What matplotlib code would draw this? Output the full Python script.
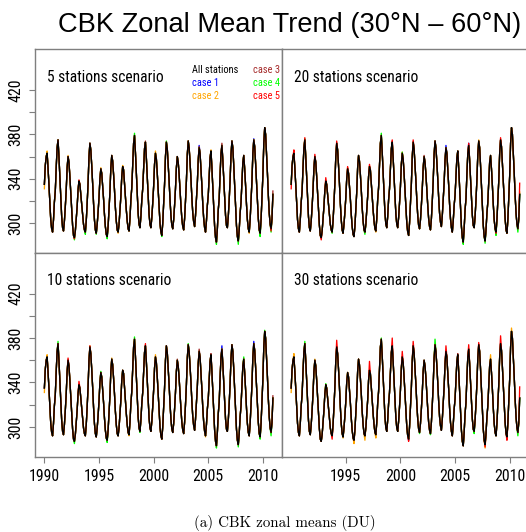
import numpy as np
import matplotlib
matplotlib.use("Agg")
import matplotlib.pyplot as plt
from matplotlib import font_manager

# ---------------- data ----------------
years = list(range(1990, 2011))
# monthly "All stations" zonal mean (DU), Jan..Dec for each year
all_stations_monthly = [
    [335, 352, 360, 363, 350, 335, 318, 303, 295, 292, 303, 319],  # 1990
    [329, 350, 368, 375, 360, 342, 322, 306, 296, 293, 302, 315],  # 1991
    [330, 350, 360, 355, 342, 327, 311, 298, 289, 287, 293, 304],  # 1992
    [315, 330, 338, 335, 326, 317, 307, 299, 294, 292, 302, 318],  # 1993
    [336, 360, 372, 366, 352, 336, 318, 303, 294, 291, 299, 310],  # 1994
    [323, 340, 349, 345, 334, 322, 308, 297, 290, 288, 297, 312],  # 1995
    [328, 350, 361, 356, 344, 330, 314, 302, 294, 292, 299, 311],  # 1996
    [324, 342, 351, 348, 336, 325, 312, 302, 295, 293, 304, 321],  # 1997
    [332, 353, 372, 379, 364, 346, 326, 309, 299, 296, 306, 321],  # 1998
    [331, 350, 367, 373, 359, 342, 324, 308, 299, 296, 305, 318],  # 1999
    [333, 353, 363, 358, 345, 330, 314, 300, 292, 289, 300, 317],  # 2000
    [335, 360, 373, 367, 353, 338, 321, 307, 298, 295, 303, 316],  # 2001
    [331, 350, 360, 355, 344, 330, 316, 304, 297, 294, 304, 320],  # 2002
    [338, 362, 374, 368, 355, 340, 323, 309, 301, 297, 307, 321],  # 2003
    [336, 357, 368, 363, 349, 334, 317, 304, 296, 292, 302, 316],  # 2004
    [325, 343, 359, 365, 350, 332, 313, 297, 287, 283, 295, 312],  # 2005
    [322, 344, 363, 370, 357, 340, 322, 307, 298, 296, 306, 321],  # 2006
    [339, 362, 374, 368, 352, 334, 314, 298, 288, 284, 294, 309],  # 2007
    [319, 338, 355, 361, 349, 334, 317, 303, 295, 292, 303, 320],  # 2008
    [338, 363, 375, 369, 354, 337, 319, 304, 294, 291, 303, 322],  # 2009
    [343, 372, 386, 380, 363, 345, 325, 309, 299, 295, 304, 326],  # 2010
]

case_names = ["case 1", "case 2", "case 3", "case 4", "case 5"]
case_colors = ["#0000FF", "#FFA500", "#A52A2A", "#00FF00", "#FF0000"]

scenario_titles = ["5 stations scenario", "20 stations scenario",
                   "10 stations scenario", "30 stations scenario"]

# deviations of each case from "All stations" (year, 'pk'|'tr'|month, DU)
dev_5 = {
    1: [(2004, 'pk', 2), (2009, 'pk', 1)],
    2: [(1990, 1, -4), (1990, 'pk', 2), (1992, 'pk', 1), (1995, 'pk', 1), (1997, 'pk', 1),
        (2000, 'pk', 2), (2005, 'pk', 1), (1996, 'tr', -1), (2008, 'tr', -1)],
    3: [(2004, 'pk', 1), (2006, 'pk', 2), (2010, 12, 3), (1999, 'pk', 1)],
    4: [(1992, 'tr', -2), (1993, 'tr', -2), (1995, 'tr', -2), (1998, 'pk', 2), (2001, 'pk', 1),
        (2000, 'tr', -1), (2005, 'tr', -2), (2007, 'tr', -3), (2009, 'tr', -3), (2010, 'tr', -3),
        (1994, 'tr', -1)],
    5: [(1992, 'tr', -1), (2010, 'tr', -2), (1993, 'pk', 1)],
}
dev_20 = {
    1: [(1993, 'pk', -2), (1997, 'pk', -2), (2004, 'pk', 2), (2006, 'pk', 2)],
    2: [(1995, 'pk', 1), (2000, 'pk', 1), (2007, 'pk', 1), (1997, 'tr', -1), (2010, 12, 2)],
    3: [(1999, 'pk', 1), (2002, 'pk', 1)],
    4: [(1991, 'pk', 1), (1998, 'pk', 2), (2000, 'pk', 1), (1996, 'tr', -2), (2005, 'tr', -2),
        (2007, 'tr', -2), (2008, 'tr', -3), (2010, 'tr', -3), (1993, 'tr', -1)],
    5: [(1990, 1, -4), (1990, 'pk', 3), (1991, 'pk', 2), (1992, 'pk', 2), (1993, 'pk', 3),
        (1994, 'pk', 2), (1995, 'pk', 2), (1997, 'pk', 2), (1999, 'pk', 2), (2001, 'pk', 2),
        (2006, 'pk', 2), (2009, 'pk', 2), (1992, 'tr', -2), (2008, 'tr', -1), (2010, 12, 10)],
}
dev_10 = {
    1: [(2006, 'pk', 3), (2009, 'pk', 2)],
    2: [(1990, 1, -4), (1990, 'pk', 2), (1994, 'pk', 1), (1996, 'pk', 1), (2000, 'pk', 2),
        (1997, 'tr', -1), (2004, 'tr', -1), (2010, 'tr', 1)],
    3: [(2002, 'pk', 1), (2004, 'pk', 2), (2005, 'pk', 1), (2010, 12, 2)],
    4: [(1991, 'pk', 2), (1995, 'pk', 1), (1998, 'pk', 2), (2003, 'pk', 1), (2008, 'pk', 2),
        (2010, 'pk', 1), (1992, 'tr', -2), (1995, 'tr', -2), (1998, 'tr', -1), (2005, 'tr', -2),
        (2007, 'tr', -2), (2009, 'tr', -2), (2010, 'tr', -3)],
    5: [(1992, 'pk', 2), (1993, 'pk', 3), (1999, 'pk', 2), (1994, 'pk', 1)],
}
dev_30 = {
    1: [(1993, 'pk', -3), (1995, 'pk', -2), (1997, 'pk', -4), (2003, 'pk', -6), (1995, 'tr', -1),
        (2000, 'tr', -1)],
    2: [(1990, 1, -4), (1990, 'pk', 3), (1992, 'pk', 1), (2008, 'pk', 4), (2010, 'pk', 3),
        (1995, 'tr', -3), (1996, 'tr', -4), (1997, 'tr', -3), (2007, 'tr', -3), (1994, 'tr', -1)],
    3: [(2005, 'pk', 1)],
    4: [(1991, 'pk', 2), (1993, 'pk', 1), (1998, 'pk', 1), (2003, 'pk', 5), (2006, 'tr', -2),
        (2001, 'tr', -1), (2010, 'tr', -3), (2002, 'tr', -1)],
    5: [(1994, 'pk', 6), (1997, 'pk', 8), (1999, 'pk', 7), (2000, 'pk', 5), (2001, 'pk', 4),
        (2004, 'pk', 5), (2006, 'pk', 4), (2007, 'pk', 2), (2009, 'pk', 7), (1993, 'tr', -3),
        (2000, 'tr', -2), (2007, 'tr', -2), (2009, 'tr', -3), (2010, 12, 10)],
}
panel_devs = [dev_5, dev_20, dev_10, dev_30]

y_ticks = [300, 320, 340, 360, 380, 400, 420]
y_labels = ["300", "", "340", "", "380", "", "420"]
x_ticks_left = [1990, 1995, 2000, 2005, 2010]
x_ticks_right = [1995, 2000, 2005, 2010]

# ---------------- fonts ----------------
available = {f.name for f in font_manager.fontManager.ttflist}
narrow_choice = None
for name, factor in [('Liberation Sans Narrow', 0.82), ('Arial Narrow', 0.82),
                     ('Nimbus Sans Narrow', 0.82), ('Roboto Condensed', 0.86),
                     ('Open Sans Condensed', 0.80)]:
    if name in available:
        narrow_choice = (name, factor)
        break
if narrow_choice is None:
    NARROW = ['Liberation Sans', 'DejaVu Sans']
    SCALE = 1.0
else:
    NARROW = [narrow_choice[0], 'Liberation Sans', 'DejaVu Sans']
    SCALE = 1.0 / narrow_choice[1]
REG = ['Liberation Sans', 'DejaVu Sans']

# ---------------- build series ----------------
base = np.array(all_stations_monthly, dtype=float)
t = np.array([y + m / 12.0 for y in years for m in range(12)])
base_flat = base.ravel()


def case_series(devs):
    arr = base.copy()
    for (yr, where, d) in devs:
        i = yr - years[0]
        if where == 'pk':
            m = int(np.argmax(arr[i]))
        elif where == 'tr':
            m = int(np.argmin(arr[i]))
        else:
            m = where - 1
        arr[i, m] += d
    return arr.ravel()


# ---------------- figure ----------------
W, H = 526, 532
fig = plt.figure(figsize=(W / 100, H / 100), dpi=100)


def fx(x):
    return x / W


def fy(y):
    return 1 - y / H


pw = 246.8
ph = 204.0
lefts = [35.2, 282.0]
tops = [49.0, 252.7]
positions = [(lefts[0], tops[0]), (lefts[1], tops[0]), (lefts[0], tops[1]), (lefts[1], tops[1])]

tick_fs = 9.8 * SCALE
label_fs = 9.6 * SCALE
leg_fs = 6.4 * SCALE

frame_col = '#7f7f7f'
for k, (lx, ty) in enumerate(positions):
    ax = fig.add_axes([fx(lx), fy(ty + ph), pw / W, ph / H])
    devs = panel_devs[k]
    for c in range(5):
        ax.plot(t, case_series(devs.get(c + 1, [])), color=case_colors[c], lw=0.95,
                solid_joinstyle='round')
    ax.plot(t, base_flat, color='black', lw=0.95, solid_joinstyle='round')
    ax.set_xlim(1989.16, 2011.75)
    ax.set_ylim(273.2, 456.8)
    for sp in ax.spines.values():
        sp.set_color(frame_col)
        sp.set_linewidth(1.0)
    ax.tick_params(axis='both', direction='out', length=4.5, width=0.8, color=frame_col,
                   labelsize=tick_fs, pad=4)
    if k in (0, 2):
        ax.set_yticks(y_ticks)
        ax.set_yticklabels(y_labels, rotation=90, va='center', family=NARROW)
    else:
        ax.set_yticks([])
    if k == 2:
        ax.set_xticks(x_ticks_left)
        ax.set_xticklabels([str(v) for v in x_ticks_left], family=NARROW)
    elif k == 3:
        ax.set_xticks(x_ticks_right)
        ax.set_xticklabels([str(v) for v in x_ticks_right], family=NARROW)
    else:
        ax.set_xticks([])
    fig.text(fx(lx + 12.0), fy(ty + 28.0), scenario_titles[k], family=NARROW,
             fontsize=label_fs, ha='left', va='center')

# legend-like text in first panel
leg_rows = [70.0, 83.3, 96.0]
fig.text(fx(192.3), fy(leg_rows[0]), "All stations", color='black', family=NARROW,
         fontsize=leg_fs, ha='left', va='center')
fig.text(fx(192.3), fy(leg_rows[1]), case_names[0], color=case_colors[0], family=NARROW,
         fontsize=leg_fs, ha='left', va='center')
fig.text(fx(192.3), fy(leg_rows[2]), case_names[1], color=case_colors[1], family=NARROW,
         fontsize=leg_fs, ha='left', va='center')
for r in range(3):
    fig.text(fx(252.7), fy(leg_rows[r]), case_names[2 + r], color=case_colors[2 + r],
             family=NARROW, fontsize=leg_fs, ha='left', va='center')

fig.text(fx(290), fy(25), "CBK Zonal Mean Trend (30°N – 60°N)", family=REG,
         fontsize=19.6, ha='center', va='center')
fig.text(fx(284.5), fy(523), "(a) CBK zonal means (DU)", family=['cmr10', 'DejaVu Serif'],
         fontsize=10.8, ha='center', va='center')

fig.savefig("out.png", dpi=100)
